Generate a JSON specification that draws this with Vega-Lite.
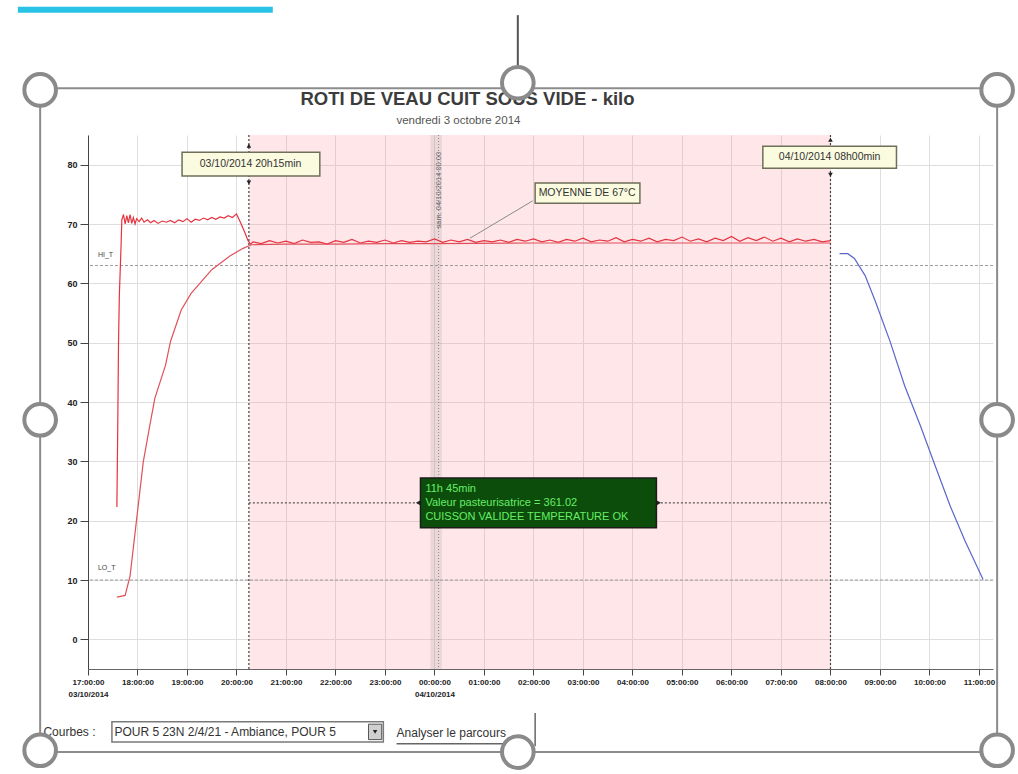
{
  "$schema": "https://vega.github.io/schema/vega-lite/v6.json",
  "width": 905,
  "height": 534,
  "autosize": {"type": "none"},
  "padding": {"left": 88, "top": 135, "right": 25, "bottom": 105},
  "background": "white",
  "config": {
    "view": {"stroke": null},
    "axis": {
      "title": null,
      "domainColor": "#666666",
      "tickColor": "#444444",
      "gridColor": "#dedede",
      "labelFont": "Liberation Sans",
      "labelFontSize": 8,
      "labelFontWeight": "bold",
      "labelColor": "#222222",
      "tickSize": 6
    }
  },
  "datasets": {
    "band": [{"t": "2014-10-03T20:15:00Z", "t2": "2014-10-04T08:00:00Z", "v": -5, "v2": 85}],
    "daysep": [{"t": "2014-10-03T23:55:00Z", "t2": "2014-10-04T00:09:00Z", "v": -5, "v2": 85}],
    "titles": [
      {"t": "2014-10-04T00:40:00Z", "v": 91.0, "text": "ROTI DE VEAU CUIT SOUS VIDE - kilo", "kind": "main"},
      {"t": "2014-10-04T00:29:00Z", "v": 87.4, "text": "vendredi 3 octobre 2014", "kind": "sub"}
    ],
    "thresholds": [{"v": 63, "name": "HI_T", "lt": "2014-10-03T17:12:00Z", "lv": 64.8}, {"v": 10, "name": "LO_T", "lt": "2014-10-03T17:12:00Z", "lv": 12.0}],
    "vlines": [{"t": "2014-10-03T20:15:00Z"}, {"t": "2014-10-04T08:00:00Z"}],
    "dayline": [{"t": "2014-10-04T00:05:00Z", "v": 75.7, "label": "sam. 04/10/2014 00:00"}],
    "duration": [{"t": "2014-10-03T20:15:00Z", "t2": "2014-10-04T08:00:00Z", "v": 23}],
    "arrows": [
      {"t": "2014-10-03T20:15:00Z", "v": 83.2, "dir": "up"},
      {"t": "2014-10-03T20:15:00Z", "v": 77.0, "dir": "down"},
      {"t": "2014-10-04T08:00:00Z", "v": 84.2, "dir": "up"},
      {"t": "2014-10-04T08:00:00Z", "v": 78.3, "dir": "down"},
      {"t": "2014-10-03T23:40:00Z", "v": 23, "dir": "left"},
      {"t": "2014-10-04T04:32:00Z", "v": 23, "dir": "right"}
    ],
    "series": [
      {"s": "amb", "t": "2014-10-03T17:35:00Z", "v": 22.3},
      {"s": "amb", "t": "2014-10-03T17:36:00Z", "v": 35.0},
      {"s": "amb", "t": "2014-10-03T17:37:00Z", "v": 50.0},
      {"s": "amb", "t": "2014-10-03T17:38:00Z", "v": 58.0},
      {"s": "amb", "t": "2014-10-03T17:40:00Z", "v": 66.0},
      {"s": "amb", "t": "2014-10-03T17:41:00Z", "v": 70.7},
      {"s": "amb", "t": "2014-10-03T17:43:00Z", "v": 71.6},
      {"s": "amb", "t": "2014-10-03T17:45:00Z", "v": 70.0},
      {"s": "amb", "t": "2014-10-03T17:47:00Z", "v": 71.4},
      {"s": "amb", "t": "2014-10-03T17:49:00Z", "v": 70.2},
      {"s": "amb", "t": "2014-10-03T17:51:00Z", "v": 71.6},
      {"s": "amb", "t": "2014-10-03T17:53:00Z", "v": 70.1},
      {"s": "amb", "t": "2014-10-03T17:55:00Z", "v": 71.1},
      {"s": "amb", "t": "2014-10-03T17:57:00Z", "v": 70.0},
      {"s": "amb", "t": "2014-10-03T17:59:00Z", "v": 70.9},
      {"s": "amb", "t": "2014-10-03T18:02:00Z", "v": 70.4},
      {"s": "amb", "t": "2014-10-03T18:05:00Z", "v": 71.0},
      {"s": "amb", "t": "2014-10-03T18:08:00Z", "v": 70.3},
      {"s": "amb", "t": "2014-10-03T18:12:00Z", "v": 70.7},
      {"s": "amb", "t": "2014-10-03T18:16:00Z", "v": 70.2},
      {"s": "amb", "t": "2014-10-03T18:20:00Z", "v": 70.6},
      {"s": "amb", "t": "2014-10-03T18:25:00Z", "v": 70.1},
      {"s": "amb", "t": "2014-10-03T18:30:00Z", "v": 70.5},
      {"s": "amb", "t": "2014-10-03T18:35:00Z", "v": 70.3},
      {"s": "amb", "t": "2014-10-03T18:40:00Z", "v": 70.6},
      {"s": "amb", "t": "2014-10-03T18:45:00Z", "v": 70.2},
      {"s": "amb", "t": "2014-10-03T18:50:00Z", "v": 70.7},
      {"s": "amb", "t": "2014-10-03T18:55:00Z", "v": 70.4},
      {"s": "amb", "t": "2014-10-03T19:00:00Z", "v": 70.9},
      {"s": "amb", "t": "2014-10-03T19:05:00Z", "v": 70.3},
      {"s": "amb", "t": "2014-10-03T19:10:00Z", "v": 70.8},
      {"s": "amb", "t": "2014-10-03T19:15:00Z", "v": 70.6},
      {"s": "amb", "t": "2014-10-03T19:20:00Z", "v": 71.0},
      {"s": "amb", "t": "2014-10-03T19:25:00Z", "v": 70.7},
      {"s": "amb", "t": "2014-10-03T19:30:00Z", "v": 71.1},
      {"s": "amb", "t": "2014-10-03T19:35:00Z", "v": 70.8},
      {"s": "amb", "t": "2014-10-03T19:40:00Z", "v": 71.2},
      {"s": "amb", "t": "2014-10-03T19:45:00Z", "v": 71.0},
      {"s": "amb", "t": "2014-10-03T19:50:00Z", "v": 71.4},
      {"s": "amb", "t": "2014-10-03T19:55:00Z", "v": 71.1},
      {"s": "amb", "t": "2014-10-03T20:00:00Z", "v": 71.7},
      {"s": "amb", "t": "2014-10-03T20:05:00Z", "v": 70.2},
      {"s": "amb", "t": "2014-10-03T20:10:00Z", "v": 68.6},
      {"s": "amb", "t": "2014-10-03T20:14:00Z", "v": 67.2},
      {"s": "amb", "t": "2014-10-03T20:17:00Z", "v": 66.6},
      {"s": "amb", "t": "2014-10-03T20:20:00Z", "v": 67.0},
      {"s": "amb", "t": "2014-10-03T20:30:00Z", "v": 66.7},
      {"s": "amb", "t": "2014-10-03T20:40:00Z", "v": 67.2},
      {"s": "amb", "t": "2014-10-03T20:50:00Z", "v": 66.8},
      {"s": "amb", "t": "2014-10-03T21:00:00Z", "v": 67.1},
      {"s": "amb", "t": "2014-10-03T21:10:00Z", "v": 66.7},
      {"s": "amb", "t": "2014-10-03T21:20:00Z", "v": 67.3},
      {"s": "amb", "t": "2014-10-03T21:30:00Z", "v": 66.9},
      {"s": "amb", "t": "2014-10-03T21:40:00Z", "v": 67.0},
      {"s": "amb", "t": "2014-10-03T21:50:00Z", "v": 66.6},
      {"s": "amb", "t": "2014-10-03T22:00:00Z", "v": 67.2},
      {"s": "amb", "t": "2014-10-03T22:10:00Z", "v": 66.9},
      {"s": "amb", "t": "2014-10-03T22:20:00Z", "v": 67.4},
      {"s": "amb", "t": "2014-10-03T22:30:00Z", "v": 66.8},
      {"s": "amb", "t": "2014-10-03T22:40:00Z", "v": 67.1},
      {"s": "amb", "t": "2014-10-03T22:50:00Z", "v": 66.9},
      {"s": "amb", "t": "2014-10-03T23:00:00Z", "v": 67.3},
      {"s": "amb", "t": "2014-10-03T23:10:00Z", "v": 66.8},
      {"s": "amb", "t": "2014-10-03T23:20:00Z", "v": 67.2},
      {"s": "amb", "t": "2014-10-03T23:30:00Z", "v": 66.9},
      {"s": "amb", "t": "2014-10-03T23:40:00Z", "v": 67.1},
      {"s": "amb", "t": "2014-10-03T23:50:00Z", "v": 67.0},
      {"s": "amb", "t": "2014-10-04T00:00:00Z", "v": 67.5},
      {"s": "amb", "t": "2014-10-04T00:10:00Z", "v": 66.9},
      {"s": "amb", "t": "2014-10-04T00:20:00Z", "v": 67.3},
      {"s": "amb", "t": "2014-10-04T00:30:00Z", "v": 67.0},
      {"s": "amb", "t": "2014-10-04T00:40:00Z", "v": 67.4},
      {"s": "amb", "t": "2014-10-04T00:50:00Z", "v": 66.9},
      {"s": "amb", "t": "2014-10-04T01:00:00Z", "v": 67.2},
      {"s": "amb", "t": "2014-10-04T01:10:00Z", "v": 67.0},
      {"s": "amb", "t": "2014-10-04T01:20:00Z", "v": 67.3},
      {"s": "amb", "t": "2014-10-04T01:30:00Z", "v": 66.9},
      {"s": "amb", "t": "2014-10-04T01:40:00Z", "v": 67.4},
      {"s": "amb", "t": "2014-10-04T01:50:00Z", "v": 67.1},
      {"s": "amb", "t": "2014-10-04T02:00:00Z", "v": 67.5},
      {"s": "amb", "t": "2014-10-04T02:10:00Z", "v": 67.0},
      {"s": "amb", "t": "2014-10-04T02:20:00Z", "v": 67.3},
      {"s": "amb", "t": "2014-10-04T02:30:00Z", "v": 66.9},
      {"s": "amb", "t": "2014-10-04T02:40:00Z", "v": 67.4},
      {"s": "amb", "t": "2014-10-04T02:50:00Z", "v": 67.1},
      {"s": "amb", "t": "2014-10-04T03:00:00Z", "v": 67.6},
      {"s": "amb", "t": "2014-10-04T03:10:00Z", "v": 67.0},
      {"s": "amb", "t": "2014-10-04T03:20:00Z", "v": 67.3},
      {"s": "amb", "t": "2014-10-04T03:30:00Z", "v": 67.1},
      {"s": "amb", "t": "2014-10-04T03:40:00Z", "v": 67.7},
      {"s": "amb", "t": "2014-10-04T03:50:00Z", "v": 67.0},
      {"s": "amb", "t": "2014-10-04T04:00:00Z", "v": 67.4},
      {"s": "amb", "t": "2014-10-04T04:10:00Z", "v": 67.1},
      {"s": "amb", "t": "2014-10-04T04:20:00Z", "v": 67.6},
      {"s": "amb", "t": "2014-10-04T04:30:00Z", "v": 67.0},
      {"s": "amb", "t": "2014-10-04T04:40:00Z", "v": 67.4},
      {"s": "amb", "t": "2014-10-04T04:50:00Z", "v": 67.2},
      {"s": "amb", "t": "2014-10-04T05:00:00Z", "v": 67.8},
      {"s": "amb", "t": "2014-10-04T05:10:00Z", "v": 67.1},
      {"s": "amb", "t": "2014-10-04T05:20:00Z", "v": 67.5},
      {"s": "amb", "t": "2014-10-04T05:30:00Z", "v": 67.0},
      {"s": "amb", "t": "2014-10-04T05:40:00Z", "v": 67.6},
      {"s": "amb", "t": "2014-10-04T05:50:00Z", "v": 67.2},
      {"s": "amb", "t": "2014-10-04T06:00:00Z", "v": 67.9},
      {"s": "amb", "t": "2014-10-04T06:10:00Z", "v": 67.1},
      {"s": "amb", "t": "2014-10-04T06:20:00Z", "v": 67.7},
      {"s": "amb", "t": "2014-10-04T06:30:00Z", "v": 67.2},
      {"s": "amb", "t": "2014-10-04T06:40:00Z", "v": 67.8},
      {"s": "amb", "t": "2014-10-04T06:50:00Z", "v": 67.1},
      {"s": "amb", "t": "2014-10-04T07:00:00Z", "v": 67.6},
      {"s": "amb", "t": "2014-10-04T07:10:00Z", "v": 67.0},
      {"s": "amb", "t": "2014-10-04T07:20:00Z", "v": 67.5},
      {"s": "amb", "t": "2014-10-04T07:30:00Z", "v": 67.1},
      {"s": "amb", "t": "2014-10-04T07:40:00Z", "v": 67.4},
      {"s": "amb", "t": "2014-10-04T07:50:00Z", "v": 67.0},
      {"s": "amb", "t": "2014-10-04T08:00:00Z", "v": 67.2},
      {"s": "core", "t": "2014-10-03T17:35:00Z", "v": 7.1},
      {"s": "core", "t": "2014-10-03T17:45:00Z", "v": 7.4},
      {"s": "core", "t": "2014-10-03T17:51:00Z", "v": 10.7},
      {"s": "core", "t": "2014-10-03T17:59:00Z", "v": 20.3},
      {"s": "core", "t": "2014-10-03T18:07:00Z", "v": 29.9},
      {"s": "core", "t": "2014-10-03T18:15:00Z", "v": 36.1},
      {"s": "core", "t": "2014-10-03T18:21:00Z", "v": 40.6},
      {"s": "core", "t": "2014-10-03T18:34:00Z", "v": 46.2},
      {"s": "core", "t": "2014-10-03T18:40:00Z", "v": 50.2},
      {"s": "core", "t": "2014-10-03T18:53:00Z", "v": 55.5},
      {"s": "core", "t": "2014-10-03T19:05:00Z", "v": 58.3},
      {"s": "core", "t": "2014-10-03T19:30:00Z", "v": 62.3},
      {"s": "core", "t": "2014-10-03T19:52:00Z", "v": 64.6},
      {"s": "core", "t": "2014-10-03T20:08:00Z", "v": 65.9},
      {"s": "core", "t": "2014-10-03T20:18:00Z", "v": 66.5},
      {"s": "core", "t": "2014-10-03T21:00:00Z", "v": 66.6},
      {"s": "core", "t": "2014-10-03T22:00:00Z", "v": 66.6},
      {"s": "core", "t": "2014-10-03T23:00:00Z", "v": 66.7},
      {"s": "core", "t": "2014-10-04T00:00:00Z", "v": 66.7},
      {"s": "core", "t": "2014-10-04T02:00:00Z", "v": 66.8},
      {"s": "core", "t": "2014-10-04T04:00:00Z", "v": 66.8},
      {"s": "core", "t": "2014-10-04T06:00:00Z", "v": 66.8},
      {"s": "core", "t": "2014-10-04T08:00:00Z", "v": 66.8},
      {"s": "cool", "t": "2014-10-04T08:11:00Z", "v": 65.0},
      {"s": "cool", "t": "2014-10-04T08:21:00Z", "v": 65.0},
      {"s": "cool", "t": "2014-10-04T08:29:00Z", "v": 64.2},
      {"s": "cool", "t": "2014-10-04T08:42:00Z", "v": 61.3},
      {"s": "cool", "t": "2014-10-04T08:54:00Z", "v": 57.1},
      {"s": "cool", "t": "2014-10-04T09:12:00Z", "v": 50.3},
      {"s": "cool", "t": "2014-10-04T09:30:00Z", "v": 42.7},
      {"s": "cool", "t": "2014-10-04T09:49:00Z", "v": 36.0},
      {"s": "cool", "t": "2014-10-04T10:07:00Z", "v": 29.2},
      {"s": "cool", "t": "2014-10-04T10:25:00Z", "v": 22.5},
      {"s": "cool", "t": "2014-10-04T10:43:00Z", "v": 16.6},
      {"s": "cool", "t": "2014-10-04T11:05:00Z", "v": 10.1}
    ],
    "leader": [{"t": "2014-10-04T00:43:00Z", "v": 67.6}, {"t": "2014-10-04T01:59:00Z", "v": 73.9}],
    "notes": [
      {"t": "2014-10-03T18:54:00Z", "t2": "2014-10-03T21:41:00Z", "v": 78.1, "v2": 82.1, "tc": "2014-10-03T20:17:00Z", "vc": 80.1, "text": "03/10/2014  20h15min"},
      {"t": "2014-10-04T06:38:00Z", "t2": "2014-10-04T09:20:00Z", "v": 79.4, "v2": 83.1, "tc": "2014-10-04T07:59:00Z", "vc": 81.25, "text": "04/10/2014  08h00min"},
      {"t": "2014-10-04T02:02:00Z", "t2": "2014-10-04T04:09:00Z", "v": 73.5, "v2": 76.9, "tc": "2014-10-04T03:05:00Z", "vc": 75.2, "text": "MOYENNE DE 67°C"}
    ],
    "greenbox": [{"t": "2014-10-03T23:43:00Z", "t2": "2014-10-04T04:29:00Z", "v": 18.8, "v2": 27.2}],
    "greentext": [
      {"t": "2014-10-03T23:49:00Z", "v": 25.3, "text": "11h 45min"},
      {"t": "2014-10-03T23:49:00Z", "v": 23.0, "text": "Valeur pasteurisatrice = 361.02"},
      {"t": "2014-10-03T23:49:00Z", "v": 20.7, "text": "CUISSON VALIDEE  TEMPERATURE OK"}
    ],
    "frame": [{"t": "2014-10-03T16:02:00Z", "t2": "2014-10-04T11:22:00Z", "v": -19.0, "v2": 92.9}],
    "bluebar": [{"t": "2014-10-03T15:35:00Z", "t2": "2014-10-03T20:44:00Z", "v": 105.6, "v2": 106.6}],
    "connector": [{"t": "2014-10-04T01:41:00Z", "v": 96.3, "v2": 105.2}],
    "handles": [
      {"t": "2014-10-03T16:02:00Z", "v": 92.6},
      {"t": "2014-10-04T01:41:00Z", "v": 93.8},
      {"t": "2014-10-04T11:22:00Z", "v": 92.6},
      {"t": "2014-10-03T16:02:00Z", "v": 37.0},
      {"t": "2014-10-04T11:22:00Z", "v": 37.0},
      {"t": "2014-10-03T16:02:00Z", "v": -18.7},
      {"t": "2014-10-04T01:41:00Z", "v": -19.0},
      {"t": "2014-10-04T11:22:00Z", "v": -18.7}
    ],
    "uibox": [{"t": "2014-10-03T17:29:00Z", "t2": "2014-10-03T22:58:00Z", "v": -17.3, "v2": -13.9}],
    "uibtn": [{"t": "2014-10-03T22:40:00Z", "t2": "2014-10-03T22:56:00Z", "v": -16.9, "v2": -14.3}],
    "uiarrow": [{"t": "2014-10-03T22:48:00Z", "v": -15.6}],
    "uitext": [
      {"t": "2014-10-03T16:06:00Z", "v": -15.7, "text": "Courbes :"},
      {"t": "2014-10-03T17:32:00Z", "v": -15.6, "text": "POUR 5 23N 2/4/21 - Ambiance, POUR 5"},
      {"t": "2014-10-03T23:14:00Z", "v": -15.8, "text": "Analyser le parcours"}
    ],
    "uiline": [{"t": "2014-10-03T23:14:00Z", "t2": "2014-10-04T01:50:00Z", "v": -17.6}],
    "uisep": [{"t": "2014-10-04T02:02:00Z", "v": -18.0, "v2": -12.4}]
  },
  "layer": [
    {
      "data": {"name": "band"},
      "mark": {"type": "rect", "color": "#ff8c9c", "opacity": 0.22},
      "encoding": {
        "x": {
          "field": "t", "type": "temporal",
          "scale": {"type": "utc", "domain": [{"year": 2014, "month": 10, "date": 3, "hours": 17, "minutes": 0, "utc": true}, {"year": 2014, "month": 10, "date": 4, "hours": 11, "minutes": 17, "utc": true}]},
          "axis": {
            "grid": true,
            "labelFlush": false,
            "labelPadding": 3,
            "labelLineHeight": 12,
            "values": [
              {"year": 2014, "month": 10, "date": 3, "hours": 17, "utc": true},
              {"year": 2014, "month": 10, "date": 3, "hours": 18, "utc": true},
              {"year": 2014, "month": 10, "date": 3, "hours": 19, "utc": true},
              {"year": 2014, "month": 10, "date": 3, "hours": 20, "utc": true},
              {"year": 2014, "month": 10, "date": 3, "hours": 21, "utc": true},
              {"year": 2014, "month": 10, "date": 3, "hours": 22, "utc": true},
              {"year": 2014, "month": 10, "date": 3, "hours": 23, "utc": true},
              {"year": 2014, "month": 10, "date": 4, "hours": 0, "utc": true},
              {"year": 2014, "month": 10, "date": 4, "hours": 1, "utc": true},
              {"year": 2014, "month": 10, "date": 4, "hours": 2, "utc": true},
              {"year": 2014, "month": 10, "date": 4, "hours": 3, "utc": true},
              {"year": 2014, "month": 10, "date": 4, "hours": 4, "utc": true},
              {"year": 2014, "month": 10, "date": 4, "hours": 5, "utc": true},
              {"year": 2014, "month": 10, "date": 4, "hours": 6, "utc": true},
              {"year": 2014, "month": 10, "date": 4, "hours": 7, "utc": true},
              {"year": 2014, "month": 10, "date": 4, "hours": 8, "utc": true},
              {"year": 2014, "month": 10, "date": 4, "hours": 9, "utc": true},
              {"year": 2014, "month": 10, "date": 4, "hours": 10, "utc": true},
              {"year": 2014, "month": 10, "date": 4, "hours": 11, "utc": true}
            ],
            "labelExpr": "(utchours(datum.value) == 17 || utchours(datum.value) == 0) ? [utcFormat(datum.value, '%H:%M:%S'), utcFormat(datum.value, '%d/%m/%Y')] : utcFormat(datum.value, '%H:%M:%S')"
          }
        },
        "x2": {"field": "t2"},
        "y": {
          "field": "v", "type": "quantitative",
          "scale": {"domain": [-5, 85], "nice": false, "zero": false},
          "axis": {"grid": true, "values": [0, 10, 20, 30, 40, 50, 60, 70, 80], "labelPadding": 3, "labelFontSize": 9, "domainColor": "#444444", "tickSize": 8}
        },
        "y2": {"field": "v2"}
      }
    },
    {
      "data": {"name": "daysep"},
      "mark": {"type": "rect", "color": "#9a9a9a", "opacity": 0.2},
      "encoding": {"x": {"field": "t", "type": "temporal"}, "x2": {"field": "t2"}, "y": {"field": "v", "type": "quantitative"}, "y2": {"field": "v2"}}
    },
    {
      "data": {"name": "thresholds"},
      "mark": {"type": "rule", "color": "#9a9a9a", "strokeDash": [3, 2], "strokeWidth": 1},
      "encoding": {"y": {"field": "v", "type": "quantitative"}}
    },
    {
      "data": {"name": "thresholds"},
      "mark": {"type": "text", "align": "left", "baseline": "middle", "fontSize": 7, "font": "Liberation Sans", "color": "#444444"},
      "encoding": {"x": {"field": "lt", "type": "temporal"}, "y": {"field": "lv", "type": "quantitative"}, "text": {"field": "name"}}
    },
    {
      "data": {"name": "vlines"},
      "mark": {"type": "rule", "color": "#444444", "strokeDash": [2, 2], "strokeWidth": 1.2},
      "encoding": {"x": {"field": "t", "type": "temporal"}}
    },
    {
      "data": {"name": "dayline"},
      "mark": {"type": "rule", "color": "#888888", "strokeDash": [1, 2], "strokeWidth": 1},
      "encoding": {"x": {"field": "t", "type": "temporal"}}
    },
    {
      "data": {"name": "dayline"},
      "mark": {"type": "text", "angle": 270, "align": "center", "baseline": "middle", "fontSize": 7.5, "font": "Liberation Sans", "color": "#666666"},
      "encoding": {"x": {"field": "t", "type": "temporal"}, "y": {"field": "v", "type": "quantitative"}, "text": {"field": "label"}}
    },
    {
      "data": {"name": "duration"},
      "mark": {"type": "rule", "color": "#555555", "strokeDash": [2, 2], "strokeWidth": 1.2},
      "encoding": {"x": {"field": "t", "type": "temporal"}, "x2": {"field": "t2"}, "y": {"field": "v", "type": "quantitative"}}
    },
    {
      "data": {"name": "series"},
      "mark": {"type": "line", "strokeWidth": 1.2, "interpolate": "linear"},
      "encoding": {
        "x": {"field": "t", "type": "temporal"},
        "y": {"field": "v", "type": "quantitative"},
        "detail": {"field": "s"},
        "color": {"field": "s", "type": "nominal", "scale": {"domain": ["amb", "core", "cool"], "range": ["#e5333f", "#e0505a", "#5a66cc"]}, "legend": null}
      }
    },
    {
      "data": {"name": "leader"},
      "mark": {"type": "line", "color": "#8a8a8a", "strokeWidth": 1},
      "encoding": {"x": {"field": "t", "type": "temporal"}, "y": {"field": "v", "type": "quantitative"}}
    },
    {
      "data": {"name": "notes"},
      "mark": {"type": "rect", "fill": "#fbfbe0", "stroke": "#6f6f5a", "strokeWidth": 1.5},
      "encoding": {"x": {"field": "t", "type": "temporal"}, "x2": {"field": "t2"}, "y": {"field": "v", "type": "quantitative"}, "y2": {"field": "v2"}}
    },
    {
      "data": {"name": "notes"},
      "mark": {"type": "text", "align": "center", "baseline": "middle", "fontSize": 10.5, "font": "Liberation Sans", "color": "#333333"},
      "encoding": {"x": {"field": "tc", "type": "temporal"}, "y": {"field": "vc", "type": "quantitative"}, "text": {"field": "text"}}
    },
    {
      "data": {"name": "greenbox"},
      "mark": {"type": "rect", "fill": "#0c4d0c", "stroke": "#1c1c1c", "strokeWidth": 1.5},
      "encoding": {"x": {"field": "t", "type": "temporal"}, "x2": {"field": "t2"}, "y": {"field": "v", "type": "quantitative"}, "y2": {"field": "v2"}}
    },
    {
      "data": {"name": "greentext"},
      "mark": {"type": "text", "align": "left", "baseline": "middle", "fontSize": 11, "font": "Liberation Sans", "color": "#66ee66"},
      "encoding": {"x": {"field": "t", "type": "temporal"}, "y": {"field": "v", "type": "quantitative"}, "text": {"field": "text"}}
    },
    {
      "data": {"name": "arrows"},
      "mark": {"type": "point", "filled": true, "size": 22, "color": "#222222", "opacity": 1},
      "encoding": {
        "x": {"field": "t", "type": "temporal"},
        "y": {"field": "v", "type": "quantitative"},
        "shape": {"field": "dir", "type": "nominal", "scale": {"domain": ["up", "down", "left", "right"], "range": ["triangle-up", "triangle-down", "triangle-left", "triangle-right"]}, "legend": null}
      }
    },
    {
      "data": {"name": "titles"},
      "transform": [{"filter": "datum.kind == 'main'"}],
      "mark": {"type": "text", "align": "center", "baseline": "middle", "fontSize": 18.5, "fontWeight": "bold", "font": "Liberation Sans", "color": "#3c3c3c"},
      "encoding": {"x": {"field": "t", "type": "temporal"}, "y": {"field": "v", "type": "quantitative"}, "text": {"field": "text"}}
    },
    {
      "data": {"name": "titles"},
      "transform": [{"filter": "datum.kind == 'sub'"}],
      "mark": {"type": "text", "align": "center", "baseline": "middle", "fontSize": 11.5, "font": "Liberation Sans", "color": "#555555"},
      "encoding": {"x": {"field": "t", "type": "temporal"}, "y": {"field": "v", "type": "quantitative"}, "text": {"field": "text"}}
    },
    {
      "data": {"name": "frame"},
      "mark": {"type": "rect", "fill": null, "fillOpacity": 0, "stroke": "#8c8c8c", "strokeWidth": 2},
      "encoding": {"x": {"field": "t", "type": "temporal"}, "x2": {"field": "t2"}, "y": {"field": "v", "type": "quantitative"}, "y2": {"field": "v2"}}
    },
    {
      "data": {"name": "bluebar"},
      "mark": {"type": "rect", "color": "#27c2e6"},
      "encoding": {"x": {"field": "t", "type": "temporal"}, "x2": {"field": "t2"}, "y": {"field": "v", "type": "quantitative"}, "y2": {"field": "v2"}}
    },
    {
      "data": {"name": "connector"},
      "mark": {"type": "rule", "color": "#555555", "strokeWidth": 2},
      "encoding": {"x": {"field": "t", "type": "temporal"}, "y": {"field": "v", "type": "quantitative"}, "y2": {"field": "v2"}}
    },
    {
      "data": {"name": "uibox"},
      "mark": {"type": "rect", "fill": "#ffffff", "stroke": "#7a7a7a", "strokeWidth": 1.5},
      "encoding": {"x": {"field": "t", "type": "temporal"}, "x2": {"field": "t2"}, "y": {"field": "v", "type": "quantitative"}, "y2": {"field": "v2"}}
    },
    {
      "data": {"name": "uibtn"},
      "mark": {"type": "rect", "fill": "#cfcfcf", "stroke": "#555555", "strokeWidth": 1},
      "encoding": {"x": {"field": "t", "type": "temporal"}, "x2": {"field": "t2"}, "y": {"field": "v", "type": "quantitative"}, "y2": {"field": "v2"}}
    },
    {
      "data": {"name": "uiarrow"},
      "mark": {"type": "point", "shape": "triangle-down", "filled": true, "size": 20, "color": "#222222", "opacity": 1},
      "encoding": {"x": {"field": "t", "type": "temporal"}, "y": {"field": "v", "type": "quantitative"}}
    },
    {
      "data": {"name": "uitext"},
      "mark": {"type": "text", "align": "left", "baseline": "middle", "fontSize": 12, "font": "Liberation Sans", "color": "#333333"},
      "encoding": {"x": {"field": "t", "type": "temporal"}, "y": {"field": "v", "type": "quantitative"}, "text": {"field": "text"}}
    },
    {
      "data": {"name": "uiline"},
      "mark": {"type": "rule", "color": "#666666", "strokeWidth": 1.5},
      "encoding": {"x": {"field": "t", "type": "temporal"}, "x2": {"field": "t2"}, "y": {"field": "v", "type": "quantitative"}}
    },
    {
      "data": {"name": "uisep"},
      "mark": {"type": "rule", "color": "#666666", "strokeWidth": 1.5},
      "encoding": {"x": {"field": "t", "type": "temporal"}, "y": {"field": "v", "type": "quantitative"}, "y2": {"field": "v2"}}
    },
    {
      "data": {"name": "handles"},
      "mark": {"type": "point", "shape": "circle", "size": 1000, "fill": "#ffffff", "fillOpacity": 1, "stroke": "#8a8a8a", "strokeWidth": 4, "opacity": 1},
      "encoding": {"x": {"field": "t", "type": "temporal"}, "y": {"field": "v", "type": "quantitative"}}
    }
  ]
}
